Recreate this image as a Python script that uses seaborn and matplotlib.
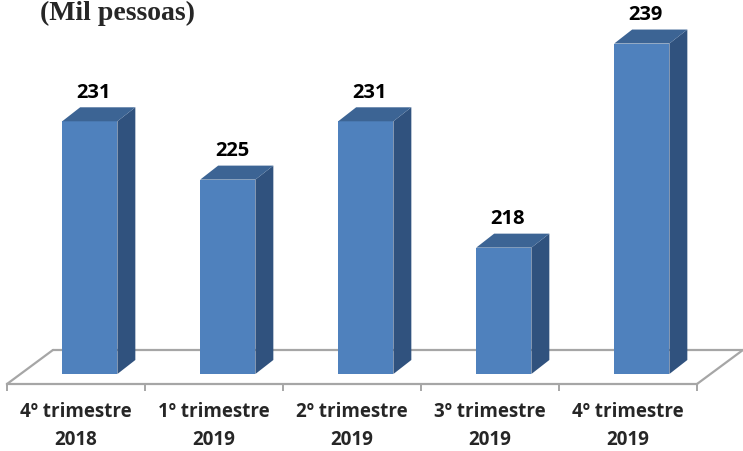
import matplotlib
matplotlib.use("Agg")
import matplotlib.pyplot as plt
from matplotlib.patches import Polygon
import seaborn as sns
import pandas as pd

# Data: employed persons by quarter (thousands)
categories = ["4º trimestre\n2018", "1º trimestre\n2019", "2º trimestre\n2019",
              "3º trimestre\n2019", "4º trimestre\n2019"]
values = [231, 225, 231, 218, 239]
unit_label = "(Mil pessoas)"

base = 205          # value at the chart floor
front_col = "#4F81BD"
side_col = "#30527E"
top_col = "#3C6494"
floor_col = "#A6A6A6"

# pseudo-3D depth of bars and of the floor, in data units
bar_dx, bar_dy = 0.13, 1.44
floor_dx, floor_dy = 0.333, 3.5

sns.set_theme(style="white")
plt.rcParams["font.family"] = ["Open Sans", "DejaVu Sans"]

W, H = 743, 451
fig = plt.figure(figsize=(W / 100, H / 100), dpi=100)
# axes: bottom spine is the front edge of the floor
ax = fig.add_axes([7 / W, 67 / H, 690 / W, 384 / H])

df = pd.DataFrame({"periodo": categories, "valor": values})
sns.barplot(data=df, x="periodo", y="valor", color=front_col, saturation=1,
            width=0.40, ax=ax, zorder=3, linewidth=0)

ax.set_xlim(-0.6, 4.4)
ax.set_ylim(203.97, 243.48)

# bars start at the floor value
for p, v in zip(ax.patches, values):
    p.set_y(base)
    p.set_height(v - base)
    p.set_clip_on(False)
    x0 = p.get_x()
    x1 = x0 + p.get_width()
    side = Polygon([(x1, base), (x1 + bar_dx, base + bar_dy),
                    (x1 + bar_dx, v + bar_dy), (x1, v)],
                   closed=True, facecolor=side_col, edgecolor="none",
                   zorder=3, clip_on=False)
    top = Polygon([(x0, v), (x1, v), (x1 + bar_dx, v + bar_dy),
                   (x0 + bar_dx, v + bar_dy)],
                  closed=True, facecolor=top_col, edgecolor="none",
                  zorder=3, clip_on=False)
    ax.add_patch(side)
    ax.add_patch(top)
    ax.annotate(f"{v}", xy=(x0 + p.get_width() / 2 + 0.03, v),
                xytext=(0, 17), textcoords="offset points",
                ha="center", va="baseline", fontsize=14.5, fontweight="bold",
                color="black", zorder=5, annotation_clip=False)

# floor outline (back, left and right edges)
y_front = ax.get_ylim()[0]
fx0, fx1 = -0.6, 4.4
ax.plot([fx0 + floor_dx, fx1 + floor_dx], [y_front + floor_dy] * 2,
        color=floor_col, lw=1.6, zorder=1, clip_on=False)
ax.plot([fx0, fx0 + floor_dx], [y_front, y_front + floor_dy],
        color=floor_col, lw=1.6, zorder=1, clip_on=False)
ax.plot([fx1, fx1 + floor_dx], [y_front, y_front + floor_dy],
        color=floor_col, lw=1.6, zorder=1, clip_on=False)

# spines / ticks
for s in ["top", "right", "left"]:
    ax.spines[s].set_visible(False)
ax.spines["bottom"].set_color(floor_col)
ax.spines["bottom"].set_linewidth(1.6)
ax.set_yticks([])
ax.set_xticks([i - 0.1 for i in range(len(categories))])
ax.set_xticklabels(categories, fontsize=13.5, fontweight="bold",
                   linespacing=1.55)
ax.set_xticks([fx0 + i for i in range(len(categories) + 1)], minor=True)
ax.tick_params(axis="x", which="major", length=0, pad=13)
ax.tick_params(axis="x", which="minor", length=5, width=1.4,
               color=floor_col, bottom=True)
ax.set_xlabel("")
ax.set_ylabel("")
ax.set_facecolor("none")

fig.text(40 / W, 1 - 20 / H, unit_label, ha="left", va="baseline",
         fontsize=20, fontweight="bold", family=["Liberation Serif"])

fig.savefig("out.png", dpi=100, facecolor="white")
